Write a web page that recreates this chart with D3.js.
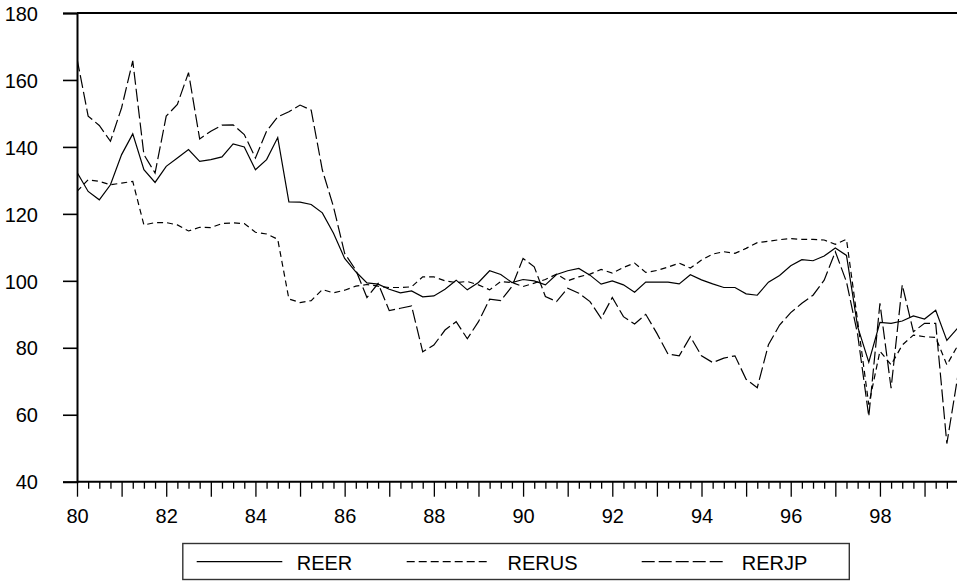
<!DOCTYPE html>
<html>
<head>
<meta charset="utf-8">
<script src="https://cdn.jsdelivr.net/npm/d3@7"></script>
<style>
  html, body { margin: 0; padding: 0; background: #fff; }
  svg { display: block; }
  text { font-family: "Liberation Sans", Arial, Helvetica, sans-serif; fill: #000; }
</style>
</head>
<body>
<svg id="chart" width="957" height="581"></svg>
<script>
// Quarterly real exchange rate indices, 1980Q1 - 1999Q4
const startYear = 1980;
const quartersPerYear = 4;

const reer = [
  132.4, 126.7, 124.2, 128.7, 137.7, 143.9, 133.2, 129.4,
  134.2, 136.7, 139.2, 135.7, 136.2, 137.0, 140.9, 140.0,
  133.2, 136.2, 142.8, 123.6, 123.5, 122.8, 120.3, 114.2,
  106.7, 102.7, 99.4, 99.0, 97.5, 96.4, 97.0, 95.2,
  95.5, 97.5, 100.2, 97.3, 99.5, 103.0, 101.9, 99.5,
  100.4, 100.0, 98.8, 101.9, 103.0, 103.7, 101.7, 99.0,
  100.0, 98.8, 96.6, 99.6, 99.6, 99.6, 99.1, 101.8,
  100.3, 99.1, 98.0, 98.0, 96.1, 95.7, 99.6, 101.6,
  104.5, 106.3, 106.0, 107.4, 109.8, 107.6, 86.3, 75.7,
  87.6, 87.3, 88.0, 89.5, 88.6, 91.2, 82.2, 86.0
];

const rerus = [
  126.7, 130.2, 129.7, 128.7, 129.2, 129.7, 116.7, 117.4,
  117.4, 116.7, 114.9, 116.0, 115.9, 117.1, 117.3, 117.1,
  114.5, 114.0, 112.4, 94.6, 93.5, 94.1, 97.4, 96.4,
  97.2, 98.4, 98.9, 98.4, 98.0, 98.0, 98.2, 101.2,
  101.2, 100.0, 99.5, 99.8, 98.8, 97.3, 99.8, 99.5,
  98.3, 99.3, 100.4, 102.0, 100.0, 101.2, 102.0, 103.4,
  102.3, 104.0, 105.3, 102.5, 103.1, 104.1, 105.3, 103.8,
  106.2, 108.0, 108.7, 108.2, 109.7, 111.4, 111.8, 112.3,
  112.6, 112.4, 112.4, 112.2, 110.9, 112.4, 88.0, 63.0,
  79.0, 74.9, 80.8, 83.8, 83.3, 83.1, 74.9, 80.8
];

const rerjp = [
  166.4, 149.2, 146.4, 141.7, 151.7, 165.7, 137.7, 132.2,
  149.2, 152.7, 162.2, 142.4, 144.7, 146.5, 146.6, 143.7,
  136.7, 144.7, 149.0, 150.5, 152.5, 151.0, 133.1, 122.1,
  108.2, 103.2, 95.0, 99.2, 91.1, 91.8, 92.5, 78.8,
  80.8, 85.3, 87.8, 82.7, 87.8, 94.5, 94.1, 98.3,
  106.7, 104.2, 95.3, 93.8, 97.8, 96.3, 93.8, 88.8,
  95.0, 89.3, 87.1, 90.0, 84.3, 78.1, 77.6, 83.3,
  77.6, 75.6, 76.9, 77.6, 70.6, 68.1, 80.9, 86.8,
  90.5, 93.3, 95.7, 100.2, 108.7, 99.7, 84.0, 59.5,
  93.3, 67.9, 98.8, 84.8, 87.3, 87.3, 51.4, 71.9
];

const seriesNames = ["REER", "RERUS", "RERJP"];
const yTicks = [40, 60, 80, 100, 120, 140, 160, 180];
const xLabelYears = [1980, 1982, 1984, 1986, 1988, 1990, 1992, 1994, 1996, 1998];

// Layout
const W = 957, H = 581;
const plot = { left: 77, top: 13, right: 958, bottom: 481.7 };

const svg = d3.select("#chart");

const nQ = reer.length;
const periods = d3.range(nQ).map(i => startYear + i / quartersPerYear);
const lastPeriod = periods[nQ - 1];

const x = d3.scaleLinear().domain([startYear, lastPeriod]).range([plot.left, plot.right]);
const y = d3.scaleLinear().domain([40, 180]).range([plot.bottom, plot.top]);

// Frame: top border
svg.append("line")
  .attr("x1", plot.left).attr("x2", plot.right + 2)
  .attr("y1", plot.top).attr("y2", plot.top)
  .attr("stroke", "#000").attr("stroke-width", 2);

// Y axis
const yAxis = d3.axisLeft(y).tickValues(yTicks).tickSize(14).tickPadding(25)
  .tickFormat(d3.format("d"));
const gy = svg.append("g").attr("transform", `translate(${plot.left},0)`).call(yAxis);
gy.select(".domain").attr("stroke", "#000").attr("stroke-width", 2);
gy.selectAll(".tick line").attr("stroke", "#000").attr("stroke-width", 1.6);
gy.selectAll(".tick text")
  .style("font-size", "20px")
  .attr("dy", "0.36em");

// X axis: quarterly minor ticks, yearly major ticks, labels on even years
const quarterTicks = periods.filter(p => Math.round(p * 4) % 4 !== 0);
const yearTicks = periods.filter(p => Math.round(p * 4) % 4 === 0);

const gxMinor = svg.append("g").attr("transform", `translate(0,${plot.bottom})`)
  .call(d3.axisBottom(x).tickValues(quarterTicks).tickSize(7).tickFormat(""));
gxMinor.select(".domain").remove();
gxMinor.selectAll(".tick line").attr("stroke", "#000").attr("stroke-width", 1.3);

const gxMajor = svg.append("g").attr("transform", `translate(0,${plot.bottom})`)
  .call(d3.axisBottom(x).tickValues(yearTicks).tickSize(15).tickFormat(""));
gxMajor.select(".domain").attr("stroke", "#000").attr("stroke-width", 2)
  .attr("d", `M${plot.left},0H${plot.right + 2}`);
gxMajor.selectAll(".tick line").attr("stroke", "#000").attr("stroke-width", 1.3);

const gxLabels = svg.append("g").attr("transform", `translate(0,${plot.bottom})`)
  .call(d3.axisBottom(x).tickValues(xLabelYears).tickSize(0).tickPadding(0)
    .tickFormat(d => String(d % 100).padStart(2, "0")));
gxLabels.select(".domain").remove();
gxLabels.selectAll(".tick text")
  .style("font-size", "20px")
  .attr("y", 523.3 - plot.bottom)
  .attr("dy", 0);

// Series lines
const styles = {
  REER:  { dash: null,  width: 1.2 },
  RERUS: { dash: "6,4", width: 1.2 },
  RERJP: { dash: "13,4", width: 1.2 }
};
const dataBy = { REER: reer, RERUS: rerus, RERJP: rerjp };

const line = d3.line()
  .x((d, i) => x(periods[i]))
  .y(d => y(d));

svg.append("clipPath").attr("id", "plotclip")
  .append("rect")
  .attr("x", plot.left).attr("y", plot.top)
  .attr("width", plot.right - plot.left + 2).attr("height", plot.bottom - plot.top);

const gLines = svg.append("g").attr("clip-path", "url(#plotclip)");
seriesNames.forEach(name => {
  gLines.append("path")
    .datum(dataBy[name])
    .attr("fill", "none")
    .attr("stroke", "#000")
    .attr("stroke-width", styles[name].width)
    .attr("stroke-dasharray", styles[name].dash)
    .attr("stroke-linejoin", "miter")
    .attr("d", line);
});

// Legend
const legend = svg.append("g");
legend.append("rect")
  .attr("x", 182.8).attr("y", 543.5)
  .attr("width", 666.5).attr("height", 36)
  .attr("fill", "#fff").attr("stroke", "#333").attr("stroke-width", 1.4);

const legendItems = [
  { name: "REER",  x1: 196.7, x2: 282.3, tx: 296.7 },
  { name: "RERUS", x1: 406.7, x2: 490.0, tx: 507.5 },
  { name: "RERJP", x1: 641.7, x2: 725.0, tx: 741.7 }
];
const legendY = 561.7;
legendItems.forEach(it => {
  legend.append("line")
    .attr("x1", it.x1).attr("x2", it.x2)
    .attr("y1", legendY).attr("y2", legendY)
    .attr("stroke", "#000").attr("stroke-width", 1.2)
    .attr("stroke-dasharray", it.name === "RERUS" ? "8,4" : styles[it.name].dash);
  legend.append("text")
    .attr("x", it.tx).attr("y", 570)
    .style("font-size", "20px")
    .text(it.name);
});
</script>
</body>
</html>
